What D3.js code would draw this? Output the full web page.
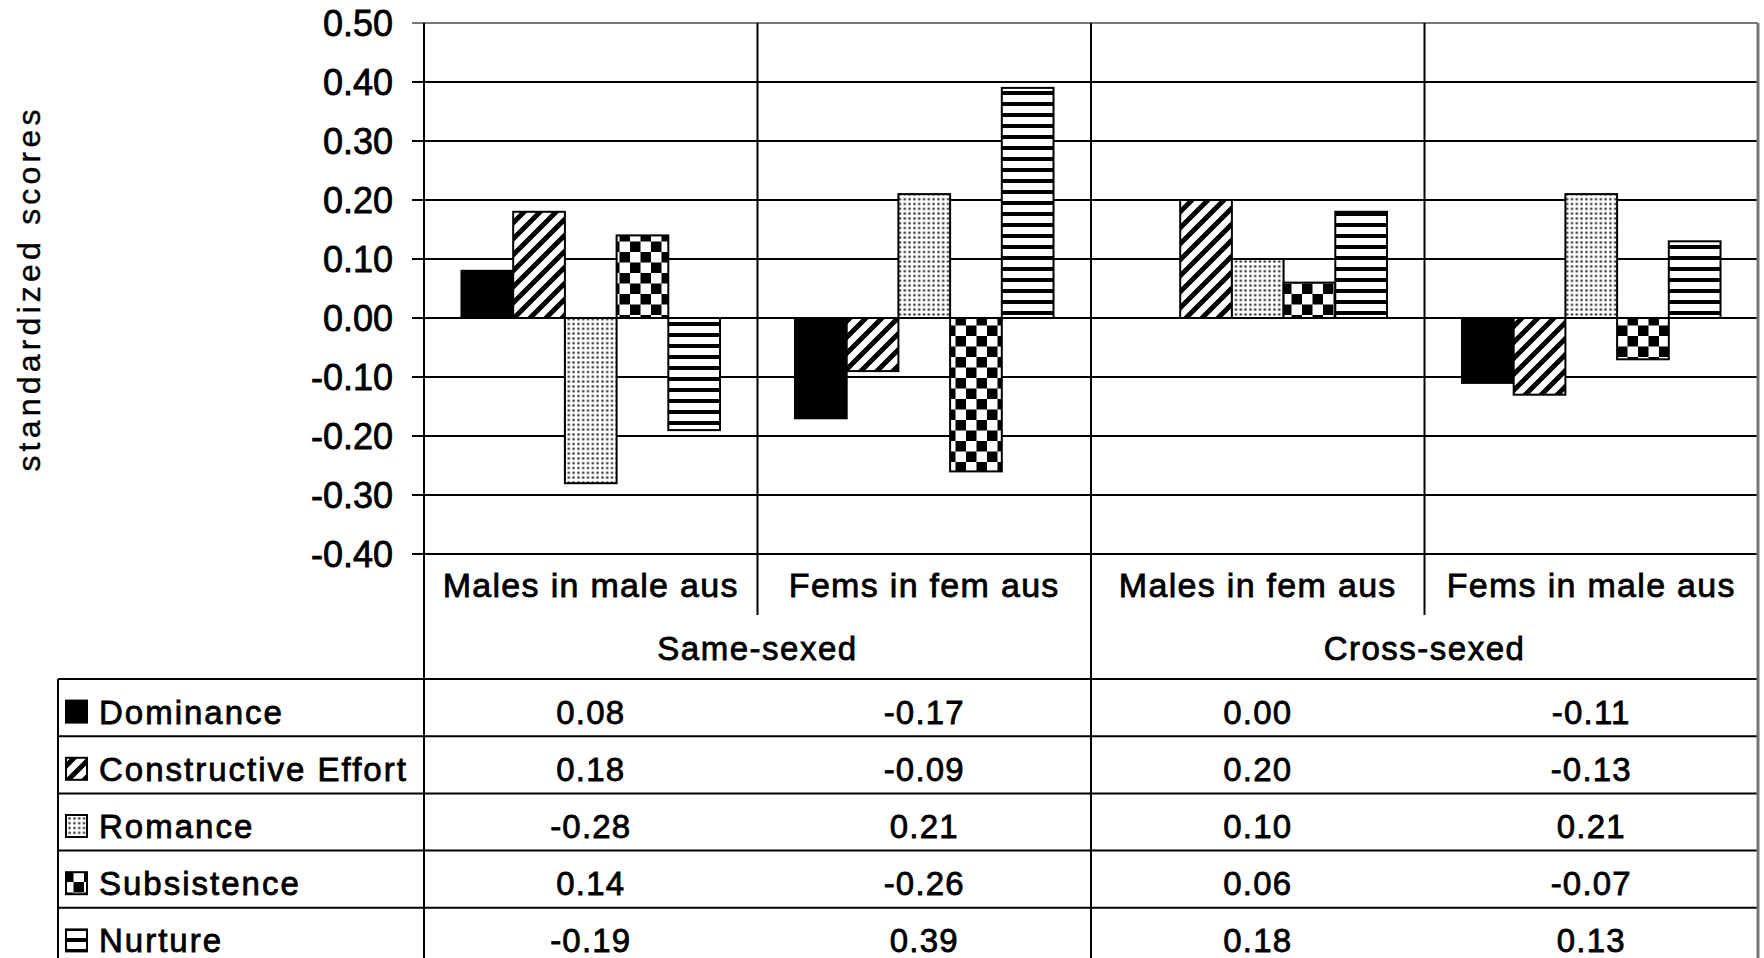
<!DOCTYPE html>
<html>
<head>
<meta charset="utf-8">
<script src="https://cdn.jsdelivr.net/npm/d3@7"></script>
<style>
  html, body { margin: 0; padding: 0; background: #fff; }
  svg { display: block; font-family: "Liberation Sans", Arial, sans-serif; }
  svg text.heavy { stroke: #000; stroke-width: 0.8px; }
</style>
</head>
<body>
<svg id="chart" width="1764" height="958"></svg>
<script>
// ---- data ----
const categories = ["Males in male aus", "Fems in fem aus", "Males in fem aus", "Fems in male aus"];
const groups = ["Same-sexed", "Cross-sexed"];
const series = ["Dominance", "Constructive Effort", "Romance", "Subsistence", "Nurture"];
const dominance = [0.08, -0.17, 0.00, -0.11];
const constructiveEffort = [0.18, -0.09, 0.20, -0.13];
const romance = [-0.28, 0.21, 0.10, 0.21];
const subsistence = [0.14, -0.26, 0.06, -0.07];
const nurture = [-0.19, 0.39, 0.18, 0.13];
const yTicks = [0.5, 0.4, 0.3, 0.2, 0.1, 0.0, -0.1, -0.2, -0.3, -0.4];
const yTitle = "standardized scores";

(function () {
const seriesValues = [dominance, constructiveEffort, romance, subsistence, nurture];
const patternIds = ["p-solid", "p-diag", "p-dots", "p-check", "p-hstripe"];

const svg = d3.select("#chart");
const pLeft = 424, pRight = 1758, pTop = 23, pBottom = 554;

const x = d3.scaleBand().domain(categories).range([pLeft, pRight]).paddingInner(0).paddingOuter(0);
const xi = d3.scaleBand().domain(series).range([0, x.bandwidth()]).paddingInner(0).paddingOuter(0.725);
const y = d3.scaleLinear().domain([-0.4, 0.5]).range([pBottom, pTop]);
const gx = d3.scaleBand().domain(groups).range([pLeft, pRight]);
const rowY = d3.scaleBand().domain(series).range([679, 679 + 5 * 57.2]);
const fmt = v => d3.format(".2f")(v).replace("−", "-");

// ---- patterns ----
const defs = svg.append("defs");
let p = defs.append("pattern").attr("id", "p-diag").attr("patternUnits", "userSpaceOnUse")
  .attr("width", 16).attr("height", 16);
p.append("rect").attr("width", 16).attr("height", 16).attr("fill", "#fff");
p.append("path").attr("d", "M-4,4 L4,-4 M0,16 L16,0 M12,20 L20,12").attr("stroke", "#000").attr("stroke-width", 5);
p = defs.append("pattern").attr("id", "p-dots").attr("patternUnits", "userSpaceOnUse")
  .attr("width", 4.8).attr("height", 4.8);
p.append("rect").attr("width", 4.8).attr("height", 4.8).attr("fill", "#fff");
p.append("circle").attr("cx", 2.4).attr("cy", 2.4).attr("r", 1.3).attr("fill", "#333");
p = defs.append("pattern").attr("id", "p-check").attr("patternUnits", "userSpaceOnUse")
  .attr("width", 21).attr("height", 21);
p.append("rect").attr("width", 21).attr("height", 21).attr("fill", "#fff");
p.append("rect").attr("x", 10.5).attr("y", 0).attr("width", 10.5).attr("height", 10.5).attr("fill", "#000");
p.append("rect").attr("x", 0).attr("y", 10.5).attr("width", 10.5).attr("height", 10.5).attr("fill", "#000");
p = defs.append("pattern").attr("id", "p-hstripe").attr("patternUnits", "userSpaceOnUse")
  .attr("width", 11).attr("height", 11);
p.append("rect").attr("width", 11).attr("height", 11).attr("fill", "#fff");
p.append("rect").attr("x", 0).attr("y", 3).attr("width", 11).attr("height", 4).attr("fill", "#000");

const fillFor = i => i === 0 ? "#000" : `url(#${patternIds[i]})`;

// ---- gridlines ----
svg.append("g").selectAll("line").data(yTicks).join("line")
  .attr("x1", pLeft - 12).attr("x2", pRight)
  .attr("y1", d => y(d)).attr("y2", d => y(d))
  .attr("stroke", d => d === 0.5 ? "#777" : "#000").attr("stroke-width", 2);

// y tick labels via axis
const yAxis = d3.axisLeft(y).tickValues(yTicks).tickFormat(fmt).tickSize(0).tickPadding(0);
const ya = svg.append("g").attr("transform", `translate(${pLeft - 31},0)`).call(yAxis);
ya.select(".domain").remove();
ya.selectAll("text").attr("class", "heavy").attr("font-size", 36)
  .attr("font-family", "Liberation Sans, Arial, sans-serif")
  .attr("fill", "#000").attr("dy", "0.36em");

// y title
svg.append("text").attr("transform", `translate(40,${(pTop + pBottom) / 2}) rotate(-90)`)
  .attr("text-anchor", "middle").attr("font-size", 32).attr("letter-spacing", 4.2)
  .attr("stroke", "#000").attr("stroke-width", 0.4)
  .text(yTitle);

// ---- bars ----
const barG = svg.append("g");
categories.forEach((c, ci) => {
  series.forEach((s, si) => {
    const v = seriesValues[si][ci];
    barG.append("rect")
      .attr("x", x(c) + xi(s))
      .attr("width", xi.bandwidth())
      .attr("y", Math.min(y(v), y(0)))
      .attr("height", Math.abs(y(v) - y(0)))
      .attr("fill", fillFor(si))
      .attr("stroke", "#000").attr("stroke-width", v === 0 ? 0 : 2);
  });
});

// ---- frame / dividers ----
const lines = svg.append("g").attr("stroke", "#000").attr("stroke-width", 2);
lines.append("line").attr("x1", pLeft).attr("x2", pLeft).attr("y1", pTop).attr("y2", 958);
categories.slice(1).forEach((c, i) => {
  const isGroupBoundary = (i === 1);
  lines.append("line").attr("x1", x(c)).attr("x2", x(c)).attr("y1", pTop)
    .attr("y2", isGroupBoundary ? 958 : 615);
});
svg.append("line").attr("x1", pRight).attr("x2", pRight).attr("y1", pTop).attr("y2", 958)
  .attr("stroke", "#777").attr("stroke-width", 3);
const tableLeft = 58;
const rowTops = series.map(s => rowY(s));
rowTops.forEach(t => {
  lines.append("line").attr("x1", tableLeft).attr("x2", pRight).attr("y1", t).attr("y2", t);
});
lines.append("line").attr("x1", tableLeft).attr("x2", tableLeft).attr("y1", rowTops[0]).attr("y2", 958);

// ---- category labels ----
svg.append("g").selectAll("text").data(categories).join("text")
  .attr("class", "heavy")
  .attr("x", d => x(d) + x.bandwidth() / 2).attr("y", 597)
  .attr("text-anchor", "middle").attr("font-size", 34).attr("letter-spacing", 1.3)
  .text(d => d);
svg.append("g").selectAll("text").data(groups).join("text")
  .attr("class", "heavy")
  .attr("x", d => gx(d) + gx.bandwidth() / 2).attr("y", 660)
  .attr("text-anchor", "middle").attr("font-size", 33).attr("letter-spacing", 1.5)
  .text(d => d);

// ---- table rows ----
const rowH = rowY.bandwidth();
series.forEach((s, si) => {
  const t = rowY(s);
  const base = t + rowH / 2 + 16;
  svg.append("rect").attr("x", 66).attr("y", base - 23).attr("width", 21).attr("height", 22)
    .attr("fill", fillFor(si)).attr("stroke", "#000").attr("stroke-width", 2);
  svg.append("text").attr("class", "heavy").attr("x", 99).attr("y", base)
    .attr("font-size", 33).attr("letter-spacing", 2.0)
    .text(s);
  categories.forEach((c, ci) => {
    svg.append("text").attr("class", "heavy").attr("x", x(c) + x.bandwidth() / 2).attr("y", base)
      .attr("text-anchor", "middle").attr("font-size", 33).attr("letter-spacing", 1.2)
      .text(fmt(seriesValues[si][ci]));
  });
});
})();
</script>
</body>
</html>
